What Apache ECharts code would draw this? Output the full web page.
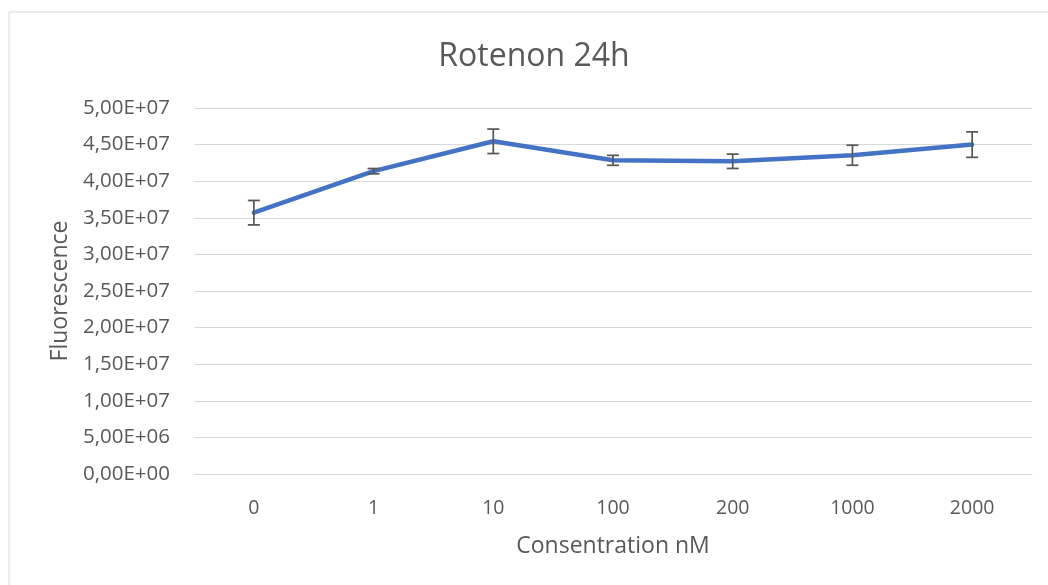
<!DOCTYPE html>
<html>
<head>
<meta charset="utf-8">
<script src="https://cdn.jsdelivr.net/npm/echarts@6/dist/echarts.min.js"></script>
<style>
  html, body { margin: 0; padding: 0; background: #fff; }
  #chart { width: 1048px; height: 585px; }
</style>
</head>
<body>
<div id="chart"></div>
<script>
// Rotenone concentrations (nM) and mean fluorescence with standard deviation
const concentrations = ['0', '1', '10', '100', '200', '1000', '2000'];
const fluorescence = [3.57e7, 4.137e7, 4.545e7, 4.285e7, 4.272e7, 4.355e7, 4.500e7];
const errors = [1.67e6, 0.36e6, 1.67e6, 0.68e6, 0.98e6, 1.37e6, 1.74e6];

const FONT = '"Open Sans", sans-serif';
const TEXT = '#595959';

function sciLabel(v) {
  if (v === 0) return '0,00E+00';
  const exp = Math.floor(Math.log10(Math.abs(v)) + 1e-9);
  const mant = (v / Math.pow(10, exp)).toFixed(2).replace('.', ',');
  return mant + 'E+' + String(exp).padStart(2, '0');
}

const chart = echarts.init(document.getElementById('chart'), null, { renderer: 'canvas' });

chart.setOption({
  animation: false,
  backgroundColor: '#ffffff',
  graphic: [{
    type: 'rect',
    left: 6.5, top: 9.5,
    shape: { width: 1200, height: 1000 },
    style: { fill: 'none', stroke: '#d9d9d9', lineWidth: 1 },
    silent: true
  }],
  title: {
    text: 'Rotenon 24h',
    left: 529, top: 36,
    textAlign: 'center',
    textStyle: { fontFamily: FONT, fontSize: 32, fontWeight: 'normal', color: TEXT }
  },
  grid: { left: 194, right: 16, top: 108, bottom: 111, containLabel: false },
  xAxis: {
    type: 'category',
    data: concentrations,
    boundaryGap: true,
    name: 'Consentration nM',
    nameLocation: 'middle',
    nameGap: 61,
    nameTextStyle: { fontFamily: FONT, fontSize: 23, color: TEXT },
    axisLine: { show: true, lineStyle: { color: '#d9d9d9', width: 1 } },
    axisTick: { show: false },
    axisLabel: { fontFamily: FONT, fontSize: 19.5, color: TEXT, margin: 24 }
  },
  yAxis: {
    type: 'value',
    min: 0, max: 5e7, interval: 5e6,
    name: 'Fluorescence',
    nameLocation: 'middle',
    nameGap: 122,
    nameRotate: 90,
    nameTextStyle: { fontFamily: FONT, fontSize: 23, color: TEXT },
    axisLine: { show: false },
    axisTick: { show: false },
    splitLine: { lineStyle: { color: '#d9d9d9', width: 1 } },
    axisLabel: { fontFamily: FONT, fontSize: 20.5, color: TEXT, margin: 24, formatter: sciLabel }
  },
  series: [
    {
      type: 'line',
      data: fluorescence,
      symbol: 'none',
      lineStyle: { color: '#4472c4', width: 4.5, cap: 'round', join: 'round' },
      z: 2
    },
    {
      type: 'custom',
      data: fluorescence.map((v, i) => [i, v - errors[i], v + errors[i]]),
      renderItem: function (params, api) {
        const lo = api.coord([api.value(0), api.value(1)]);
        const hi = api.coord([api.value(0), api.value(2)]);
        const half = 6;
        const style = { stroke: '#595959', lineWidth: 1.75 };
        return {
          type: 'group',
          children: [
            { type: 'line', shape: { x1: lo[0], y1: lo[1], x2: hi[0], y2: hi[1] }, style: style },
            { type: 'line', shape: { x1: lo[0] - half, y1: lo[1], x2: lo[0] + half, y2: lo[1] }, style: style },
            { type: 'line', shape: { x1: hi[0] - half, y1: hi[1], x2: hi[0] + half, y2: hi[1] }, style: style }
          ]
        };
      },
      z: 3
    }
  ]
});
</script>
</body>
</html>
